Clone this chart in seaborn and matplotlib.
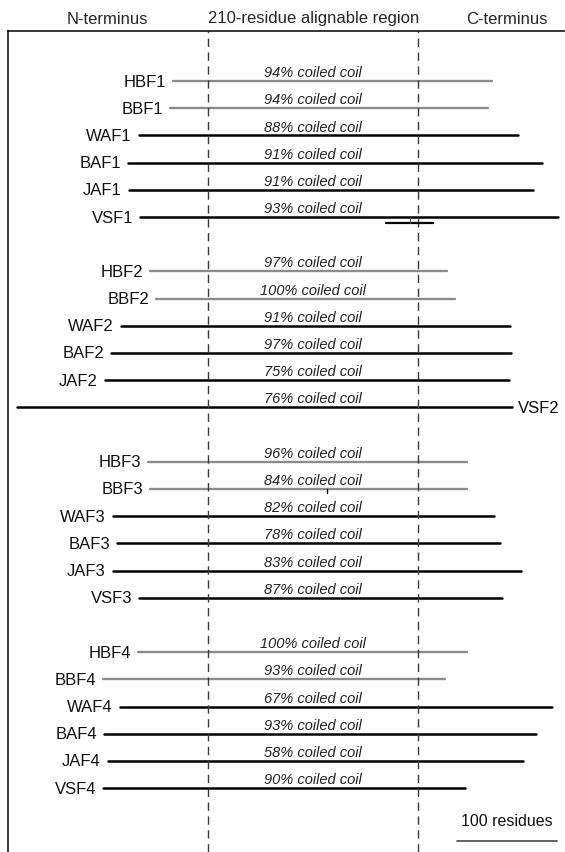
import pandas as pd
import matplotlib.pyplot as plt
import seaborn as sns

# protein order (4 groups of 6) and extents in residues, 0 = start of the alignable region
proteins = ['HBF1', 'BBF1', 'WAF1', 'BAF1', 'JAF1', 'VSF1',
            'HBF2', 'BBF2', 'WAF2', 'BAF2', 'JAF2', 'VSF2',
            'HBF3', 'BBF3', 'WAF3', 'BAF3', 'JAF3', 'VSF3',
            'HBF4', 'BBF4', 'WAF4', 'BAF4', 'JAF4', 'VSF4']
n_start = [-35, -38, -69, -80, -79, -68,
           -58, -52, -87, -97, -103, -191,
           -60, -58, -95, -91, -95, -69,
           -70, -105, -88, -104, -100, -105]
c_end = [284, 280, 310, 334, 325, 350,
         239, 247, 302, 303, 301, 304,
         259, 259, 286, 292, 313, 294,
         259, 237, 344, 328, 315, 257]
coil_pct = [94, 94, 88, 91, 91, 93,
            97, 100, 91, 97, 75, 76,
            96, 84, 82, 78, 83, 87,
            100, 93, 67, 93, 58, 90]
region_len = 210
scale_len = 100

sns.set_theme(style="white")
plt.rcParams['font.family'] = ['Liberation Sans', 'DejaVu Sans']

rows = []
for i, name in enumerate(proteins):
    slot = (i // 6) * 7 + i % 6
    kind = 'bird' if name[:2] in ('HB', 'BB') else 'other'
    rows.append({'protein': name, 'slot': slot, 'kind': kind, 'residue': n_start[i], 'end': 'N'})
    rows.append({'protein': name, 'slot': slot, 'kind': kind, 'residue': c_end[i], 'end': 'C'})
df = pd.DataFrame(rows)

fig = plt.figure(figsize=(5.65, 8.53), dpi=100)
ax = fig.add_axes([8 / 565, 0, 557 / 565, (853 - 32) / 853])

sns.lineplot(data=df[df['kind'] == 'bird'], x='residue', y='slot', units='protein',
             estimator=None, sort=False, color='#8c8c8c', lw=1.7, ax=ax)
sns.lineplot(data=df[df['kind'] == 'other'], x='residue', y='slot', units='protein',
             estimator=None, sort=False, color='black', lw=1.8, ax=ax)

ax.set_xlim(-200, 357)
ax.set_ylim(28.35, -1.84)
ax.set_xlabel('')
ax.set_ylabel('')
ax.set_xticks([])
ax.set_yticks([])
for side in ['right', 'bottom']:
    ax.spines[side].set_visible(False)
for side in ['left', 'top']:
    ax.spines[side].set_color('black')
    ax.spines[side].set_linewidth(1.1)

# alignable region boundaries
for xv in [0, region_len]:
    ax.axvline(xv, color='#3a3a3a', lw=1.0, linestyle=(0, (6, 4)))

# labels and coiled-coil annotations
for i, name in enumerate(proteins):
    slot = (i // 6) * 7 + i % 6
    if n_start[i] < -150:
        ax.text(c_end[i] + 6, slot, name, ha='left', va='center', fontsize=12, color='#111111')
    else:
        ax.text(n_start[i] - 7, slot, name, ha='right', va='center', fontsize=12, color='#111111')
    ax.text(region_len / 2, slot - 0.07, f'{coil_pct[i]}% coiled coil', ha='center', va='bottom',
            fontsize=10.5, style='italic', color='#222222')

# small marks under VSF1 and WAF3
ax.plot([178, 225], [5.22, 5.22], color='black', lw=1.6)
ax.plot([202, 202], [5.0, 5.22], color='#555555', lw=0.8)
ax.plot([119, 119], [15.0, 15.15], color='black', lw=1.0)

# scale bar
ax.plot([249, 249 + scale_len], [27.95, 27.95], color='#555555', lw=1.3)
ax.text(249 + scale_len / 2, 27.45, f'{scale_len} residues', ha='center', va='bottom',
        fontsize=11.5, color='#111111')

# header
fig.text(107 / 565, 1 - 19 / 853, 'N-terminus', ha='center', va='center', fontsize=12)
fig.text(314 / 565, 1 - 19 / 853, f'{region_len}-residue alignable region', ha='center', va='center', fontsize=12)
fig.text(507 / 565, 1 - 19 / 853, 'C-terminus', ha='center', va='center', fontsize=12)

fig.savefig('out.png', dpi=100)
plt.close(fig)
